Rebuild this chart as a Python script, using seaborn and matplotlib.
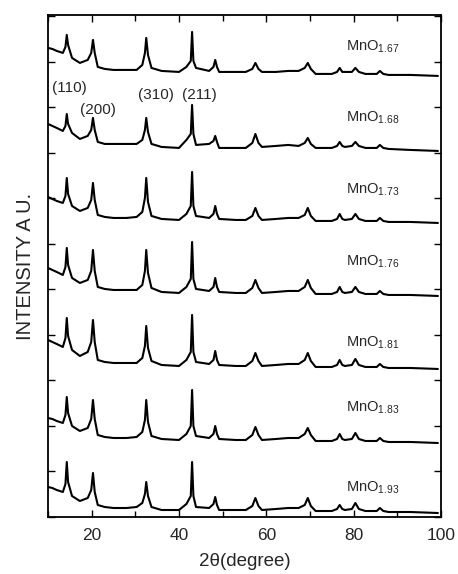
import numpy as np
import pandas as pd
import matplotlib
matplotlib.use("Agg")
import matplotlib.pyplot as plt
from matplotlib.ticker import MultipleLocator, NullFormatter
import seaborn as sns

# ---------------- data ----------------
two_theta = [10, 11, 12, 13.4, 14.0, 14.3, 14.6, 15.5, 17.3, 19.1, 19.9, 20.3, 20.7, 21.4,
             23, 25, 28, 30.3, 31.6, 32.2, 32.5, 32.9, 33.7, 36, 40, 41.7, 42.7, 43.0, 43.3,
             43.9, 46.9, 47.9, 48.3, 48.7, 49.2, 53, 55.3, 56.8, 57.5, 58.2, 59, 62.2, 65,
             67.4, 68.8, 69.5, 70.2, 71.3, 75, 76.2, 76.8, 77.4, 78, 79.6, 80.4, 81.2, 82.7,
             85.3, 86, 86.8, 88, 93, 99.3]

i_167 = [27, 26, 24, 22, 28, 40, 30, 17, 12, 15, 22, 35, 22, 8,
         6, 5, 5, 5, 10, 22, 37, 20, 7, 4, 3, 8, 14, 43, 14,
         7, 4, 8, 15, 8, 3, 3, 3, 6, 12, 6, 3, 3, 4,
         4, 7, 12, 6, 1, 1, 3, 7, 3, 3, 3, 7, 3, 1,
         1, 4, 1, 0, 0, -1]
i_168 = [24, 22, 20, 17, 22, 34, 24, 15, 9, 12, 18, 30, 18, 6,
         4, 4, 4, 4, 8, 18, 30, 16, 4, 1, 0, 8, 14, 43, 14,
         3, 4, 7, 12, 6, 0, 0, 0, 5, 14, 5, 1, 2, 3,
         2, 5, 10, 4, 0, 0, 2, 6, 2, 1, 2, 6, 2, 0,
         0, 3, 0, -1, -2, -3]
i_173 = [25, 23, 21, 19, 26, 44, 28, 16, 11, 14, 22, 39, 22, 7,
         5, 4, 4, 5, 10, 24, 44, 20, 6, 3, 2, 8, 16, 50, 16,
         6, 4, 8, 16, 8, 3, 2, 2, 6, 14, 6, 2, 3, 4,
         4, 7, 14, 6, 1, 1, 3, 8, 3, 2, 3, 8, 3, 1,
         1, 4, 1, 0, 0, -1]
i_176 = [27, 25, 23, 20, 28, 47, 30, 17, 12, 15, 24, 45, 24, 8,
         6, 5, 5, 5, 10, 24, 45, 22, 7, 3, 2, 8, 16, 53, 16,
         6, 4, 8, 17, 8, 3, 2, 2, 7, 15, 7, 2, 3, 4,
         4, 8, 15, 7, 1, 1, 3, 8, 3, 2, 3, 8, 3, 1,
         1, 4, 1, 0, 0, -1]
i_181 = [28, 26, 24, 21, 30, 50, 32, 18, 12, 16, 26, 48, 26, 8,
         6, 5, 5, 5, 10, 22, 42, 20, 7, 3, 2, 8, 16, 53, 16,
         6, 4, 8, 17, 8, 3, 2, 2, 7, 15, 7, 2, 3, 4,
         4, 8, 15, 7, 1, 1, 3, 8, 3, 2, 3, 9, 3, 1,
         1, 4, 1, 0, 0, -1]
i_183 = [24, 23, 21, 19, 27, 45, 29, 16, 11, 14, 23, 42, 23, 7,
         5, 4, 4, 5, 10, 22, 42, 20, 6, 3, 2, 8, 16, 52, 16,
         6, 4, 8, 16, 8, 3, 2, 2, 7, 15, 7, 2, 3, 4,
         4, 8, 14, 7, 1, 1, 3, 8, 3, 2, 3, 9, 3, 1,
         1, 4, 1, 0, 0, -1]
i_193 = [25, 24, 22, 20, 28, 50, 30, 16, 11, 14, 22, 39, 20, 7,
         5, 4, 4, 5, 9, 18, 30, 16, 5, 2, 2, 8, 16, 50, 16,
         5, 4, 8, 15, 7, 2, 2, 2, 6, 14, 6, 2, 3, 4,
         4, 7, 14, 6, 1, 1, 3, 7, 3, 2, 3, 9, 3, 1,
         1, 4, 1, 0, 0, -1]

subscripts = ["1.67", "1.68", "1.73", "1.76", "1.81", "1.83", "1.93"]
offsets = [442, 369, 295, 222, 149, 75, 5]
label_y = [470, 399, 327, 255, 174, 109, 29]
series = [i_167, i_168, i_173, i_176, i_181, i_183, i_193]

hkl_labels = ["(110)", "(200)", "(310)", "(211)"]
hkl_x = [15.0, 21.4, 34.8, 44.6]
hkl_y = [429, 407, 422, 422]

# ---------------- build frame ----------------
rows = []
for sub, off, vals in zip(subscripts, offsets, series):
    for t, v in zip(two_theta, vals):
        rows.append({"two_theta": t, "intensity": v + off, "sample": sub})
df = pd.DataFrame(rows)

sns.set_style("ticks")
plt.rcParams['font.family'] = ['Liberation Sans', 'DejaVu Sans']
plt.rcParams['mathtext.fontset'] = 'custom'
plt.rcParams['mathtext.rm'] = 'Liberation Sans'
plt.rcParams['mathtext.it'] = 'Liberation Sans'

fig = plt.figure(figsize=(4.58, 5.74), dpi=100)
ax = fig.add_axes([0.1048, 0.0993, 0.858, 0.8747])

sns.lineplot(data=df, x="two_theta", y="intensity", units="sample", estimator=None,
             color="black", linewidth=1.5, ax=ax, sort=False)

ax.set_xlim(10, 100)
ax.set_ylim(0, 502)

ax.xaxis.set_major_locator(MultipleLocator(20))
ax.xaxis.set_minor_locator(MultipleLocator(10))
ax.yaxis.set_major_locator(MultipleLocator(45.5))
ax.yaxis.set_major_formatter(NullFormatter())
ax.tick_params(axis="both", which="both", direction="in", top=True, right=True,
               width=1.0, color="black")
ax.tick_params(axis="both", which="major", length=5)
ax.tick_params(axis="both", which="minor", length=4)
ax.tick_params(axis="x", labelsize=12.5, pad=8)
for s in ax.spines.values():
    s.set_linewidth(1.3)
    s.set_color("black")

ax.set_xlabel("2θ(degree)", fontsize=13.5, labelpad=7)
ax.set_ylabel("INTENSITY A U.", fontsize=14.5, labelpad=6)

for sub, ly in zip(subscripts, label_y):
    ax.text(78.2, ly, "MnO$_{\\mathrm{" + sub + "}}$", fontsize=10.5, va="center", ha="left")

for lab, hx, hy in zip(hkl_labels, hkl_x, hkl_y):
    ax.text(hx, hy, lab, fontsize=11, ha="center", va="center")

fig.savefig("out.png", dpi=100)
